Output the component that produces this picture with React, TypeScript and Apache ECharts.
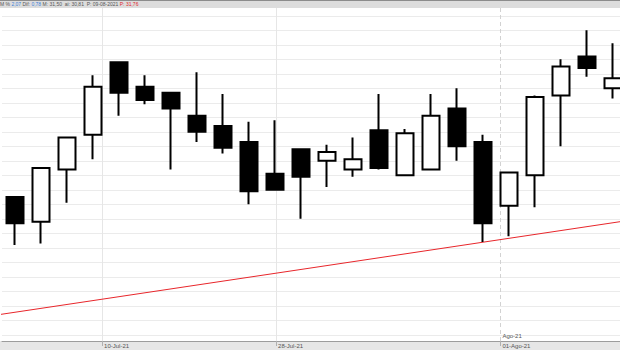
import React, { useEffect, useRef } from "react";
import * as echarts from "echarts";

const categories = ["1","2","3","4","5","6","7","8","9","10","11","12","13","14","15","16","17","18","19","20","21","22","23","24"];
const opens  = [30.95,30.78,31.14,31.38,31.88,31.71,31.67,31.51,31.44,31.33,31.11,31.28,31.20,31.14,31.41,31.10,31.14,31.56,31.33,30.89,31.10,31.65,31.92,31.70];
const closes = [30.77,31.15,31.36,31.71,31.67,31.62,31.56,31.40,31.29,30.99,31.00,31.09,31.26,31.21,31.15,31.39,31.51,31.30,30.77,31.12,31.64,31.85,31.84,31.77];
const lows   = [30.62,30.63,30.91,31.21,31.51,31.59,31.14,31.33,31.25,30.90,31.00,30.80,31.02,31.09,31.14,31.10,31.14,31.20,30.64,30.68,30.88,31.30,31.78,31.63];
const highs  = [30.95,31.15,31.36,31.79,31.88,31.79,31.67,31.81,31.66,31.47,31.48,31.28,31.31,31.36,31.66,31.42,31.66,31.70,31.38,31.12,31.65,31.90,32.10,32.01];

const trendX = [-0.58, 23.27];
const trendY = [30.14, 30.78];

const datePositions = [3.35, 10.04, 18.67];
const dateLabels = ["10-Jul-21", "28-Jul-21", "01-Ago-21"];
const monthPositions = [18.67];
const monthLabels = ["Ago-21"];

const Y_MIN = 30.0;
const Y_MAX = 32.2;
const Y_INTERVAL = 0.1;

const W = 620;
const H = 350;
const G_LEFT = 2;
const G_WIDTH = 624;
const G0_TOP = 15.8;
const G0_BOTTOM = 15.2;
const G1_TOP = 8;
const G1_BOTTOM = 9;

export default function App() {
  const ref = useRef<HTMLDivElement>(null);
  useEffect(() => {
    if (!ref.current) return;
    const chart = echarts.init(ref.current, null, { renderer: "svg" });
    const unitsPerPx = (Y_MAX - Y_MIN) / (H - G0_TOP - G0_BOTTOM);
    const y1Max = Y_MAX + (G0_TOP - G1_TOP) * unitsPerPx;
    const y1Min = Y_MIN - (G0_BOTTOM - G1_BOTTOM) * unitsPerPx;
    const font = "Liberation Sans";
    const nearest = (v: number, pos: number[], labels: string[]) => {
      let best = 0;
      for (let i = 1; i < pos.length; i++) if (Math.abs(pos[i] - v) < Math.abs(pos[best] - v)) best = i;
      return labels[best];
    };
    chart.setOption({
      animation: false,
      backgroundColor: "#ffffff",
      grid: [
        { left: G_LEFT, width: G_WIDTH, top: G0_TOP, bottom: G0_BOTTOM, containLabel: false, outerBoundsMode: "none" },
        { left: G_LEFT, width: G_WIDTH, top: G1_TOP, bottom: G1_BOTTOM, containLabel: false, outerBoundsMode: "none" },
      ],
      xAxis: [
        { type: "category", gridIndex: 0, data: categories, show: false, boundaryGap: true },
        {
          type: "value", gridIndex: 1, min: -0.5, max: 23.5, position: "bottom",
          axisLine: { show: true, onZero: false, lineStyle: { color: "#9c9c9c", width: 1 } },
          axisTick: { show: true, customValues: datePositions, length: 5, lineStyle: { color: "#b0b0b0" } },
          axisLabel: {
            show: true, customValues: datePositions, align: "left", padding: [0, 0, 0, 2],
            fontSize: 6, color: "#555", fontFamily: font, margin: 2,
            formatter: (v: number) => nearest(v, datePositions, dateLabels),
          },
          splitLine: { show: false },
        },
        {
          type: "value", gridIndex: 1, min: -0.5, max: 23.5, position: "bottom", offset: 0,
          axisLine: { show: false, onZero: false },
          axisTick: { show: false },
          axisLabel: {
            show: true, inside: true, customValues: monthPositions, align: "left", padding: [0, 0, 0, 2],
            fontSize: 6, color: "#555", fontFamily: font, margin: 2,
            formatter: (v: number) => nearest(v, monthPositions, monthLabels),
          },
          splitLine: { show: false },
        },
      ],
      yAxis: [
        {
          type: "value", gridIndex: 0, min: Y_MIN, max: Y_MAX, interval: Y_INTERVAL,
          axisLine: { show: false }, axisTick: { show: false }, axisLabel: { show: false },
          splitLine: { show: true, lineStyle: { color: "#ebebeb", width: 1 } },
        },
        {
          type: "value", gridIndex: 1, min: y1Min, max: y1Max, show: false,
          splitLine: { show: false },
        },
      ],
      series: [
        {
          type: "line", xAxisIndex: 1, yAxisIndex: 1, z: 1,
          data: trendX.map((x, i) => [x, trendY[i]]),
          symbol: "none", clip: false, silent: true,
          lineStyle: { color: "#e8262b", width: 1 },
          markLine: {
            z: 1,
            symbol: ["none", "none"], silent: true, label: { show: false },
            data: datePositions.map((p, i) => ({
              xAxis: p,
              lineStyle: i === 2
                ? { color: "#d2d2d2", type: [4, 3], width: 1 }
                : { color: "#e6e6e6", type: "solid", width: 1 },
            })),
          },
        },
        {
          type: "candlestick", xAxisIndex: 0, yAxisIndex: 0, z: 3,
          barWidth: 17, clip: false,
          data: categories.map((_, i) => [opens[i], closes[i], lows[i], highs[i]]),
          itemStyle: {
            color: "#ffffff", color0: "#000000",
            borderColor: "#000000", borderColor0: "#000000", borderColorDoji: "#000000",
            borderWidth: 2,
          },
        },
      ],
      graphic: [
        { type: "rect", z: -5, shape: { x: 0, y: H - G1_BOTTOM, width: W, height: G1_BOTTOM }, style: { fill: "#e6e6e6" } },
        { type: "rect", z: 50, shape: { x: 0, y: 0, width: W, height: 8 }, style: { fill: "#dddddd" } },
        { type: "line", z: 51, shape: { x1: 0, y1: 0.5, x2: W, y2: 0.5 }, style: { stroke: "#8c8c8c", lineWidth: 1 } },
        {
          type: "text", z: 52, x: 0, y: 1.4,
          style: {
            text: "{g|M %} {b|2,07} {g|Dif:} {b|0,78} {g|M: 31,50  ai: 30,81  P: 09-08-2021} {r|P: 31,76}",
            fontSize: 5, fontFamily: font,
            rich: {
              g: { fill: "#555555", fontSize: 5, fontFamily: font },
              b: { fill: "#3d7fd9", fontSize: 5, fontFamily: font },
              r: { fill: "#e0282d", fontSize: 5, fontFamily: font },
            },
          },
        },
      ],
    });
    return () => chart.dispose();
  }, []);
  return <div ref={ref} style={{ position: "fixed", left: 0, top: 0, width: W, height: H }} />;
}
